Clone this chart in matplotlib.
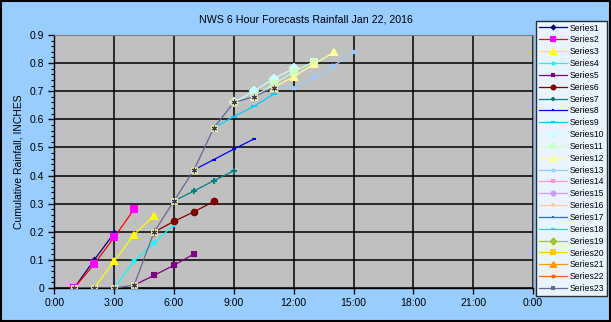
import matplotlib.pyplot as plt
from matplotlib.ticker import FixedLocator, MultipleLocator

plt.rcParams['font.family'] = ['Liberation Sans', 'DejaVu Sans']

# observed cumulative rainfall (hours after midnight)
obs_hours = [1, 2, 3, 4, 5, 6, 7, 8, 9, 10, 11]
obs_rain = [0.0, 0.0, 0.0, 0.01, 0.199, 0.31, 0.42, 0.57, 0.66, 0.68, 0.713]

# forecast runs, one list of hours and one of values per series
fc_hours = [
    [1, 2, 3],
    [1, 2, 3, 4],
    [2, 3, 4, 5],
    [3, 4, 5, 6],
    [4, 5, 6, 7],
    [5, 6, 7, 8],
    [6, 7, 8, 9],
    [7, 8, 9, 10],
    [8, 9, 10, 11],
    [9, 10, 11, 12],
    [10, 11, 12, 13],
    [11, 12, 13, 14],
    [11, 12, 13, 14, 15],
]
fc_rain = [
    [0.0, 0.10, 0.195],
    [0.0, 0.085, 0.18, 0.28],
    [0.0, 0.095, 0.19, 0.257],
    [0.0, 0.096, 0.16, 0.225],
    [0.01, 0.045, 0.081, 0.121],
    [0.199, 0.237, 0.271, 0.308],
    [0.31, 0.345, 0.382, 0.417],
    [0.42, 0.457, 0.494, 0.53],
    [0.57, 0.61, 0.646, 0.69],
    [0.66, 0.70, 0.745, 0.781],
    [0.68, 0.725, 0.769, 0.805],
    [0.713, 0.752, 0.796, 0.838],
    [0.713, 0.713, 0.749, 0.79, 0.838],
]

x_ticks = [0, 3, 6, 9, 12, 15, 18, 21, 24]
x_labels = ["0:00", "3:00", "6:00", "9:00", "12:00", "15:00", "18:00", "21:00", "0:00"]
y_ticks = [0, 0.1, 0.2, 0.3, 0.4, 0.5, 0.6, 0.7, 0.8, 0.9]
y_labels = ["0", "0.1", "0.2", "0.3", "0.4", "0.5", "0.6", "0.7", "0.8", "0.9"]

# old excel palette / marker cycle for 23 series
line_colors = ["#000080", "#FF0000", "#FFFF00", "#00FFFF", "#800080", "#800000",
               "#008080", "#0000FF", "#00CCFF", "#CCFFFF", "#CCFFCC", "#FFFF99",
               "#99CCFF", "#FF99CC", "#CC99FF", "#FFCC99", "#3366FF", "#33CCCC",
               "#99CC00", "#FFCC00", "#FF9900", "#FF6600", "#666699"]
marker_colors = list(line_colors)
marker_colors[1] = "#FF00FF"
markers = ["D", "s", "^", "x", "s", "o", "+", "_", "_",
           "D", "s", "^", "x", "s", "o", "+", "_", "_",
           "D", "s", "^", "x", "s"]
msizes = [2.5, 4.3, 5, 3, 2.5, 4, 4, 3, 5, 4, 4.3, 5, 3, 2.5, 4, 4, 3, 5, 4, 4.3, 5, 3, 2.5]

fig = plt.figure(figsize=(6.11, 3.22), dpi=100, facecolor="#99CCFF")
ax = fig.add_axes([0.0889, 0.1056, 0.7835, 0.7857])
ax.set_facecolor("#C0C0C0")

for i in range(23):
    if i < len(fc_hours):
        xs, ys = fc_hours[i], fc_rain[i]
    elif i == 22:
        xs, ys = obs_hours, obs_rain
    else:
        xs, ys = [], []
    ax.plot(xs, ys, color=line_colors[i], lw=0.9, marker=markers[i],
            ms=msizes[i], mfc=marker_colors[i], mec=marker_colors[i],
            mew=1.5, label="Series%d" % (i + 1), zorder=3)

# observed points drawn over everything
ax.plot(obs_hours, obs_rain, ls="none", marker="s", ms=4.8, mfc="#FFFF99",
        mec="#F0F0B0", mew=0.6, zorder=4)
ax.plot(obs_hours, obs_rain, ls="none", marker=(6, 2, 0), ms=4, mec="#3A3A55",
        mew=0.8, zorder=5)

ax.set_xlim(0, 24)
ax.set_ylim(0, 0.9)
ax.xaxis.set_major_locator(FixedLocator(x_ticks))
ax.set_xticklabels(x_labels)
ax.yaxis.set_major_locator(FixedLocator(y_ticks))
ax.set_yticklabels(y_labels)
ax.yaxis.set_minor_locator(MultipleLocator(0.02))
ax.tick_params(axis="both", which="major", direction="out", length=4,
               width=1, labelsize=7.5, colors="black")
ax.tick_params(axis="y", which="minor", direction="out", length=2, width=0.8)
ax.grid(True, which="major", color="black", lw=1.1)
ax.set_axisbelow(True)
for side in ["top", "right"]:
    ax.spines[side].set_color("#808080")
for side in ["left", "bottom"]:
    ax.spines[side].set_color("black")
    ax.spines[side].set_linewidth(1.0)

ax.set_ylabel("Cumulative Rainfall, INCHES", fontsize=7.5, labelpad=4)
fig.text(0.5, 0.94, "NWS 6 Hour Forecasts Rainfall Jan 22, 2016",
         ha="center", va="center", fontsize=7.7)

leg = fig.legend(loc="upper left", bbox_to_anchor=(0.878, 0.935), fontsize=6.2,
                 frameon=True, fancybox=False, handlelength=3.2,
                 labelspacing=0.33, borderpad=0.3, handletextpad=0.4,
                 borderaxespad=0, markerscale=0.7)
leg.get_frame().set_edgecolor("black")
leg.get_frame().set_linewidth(1.0)
leg.get_frame().set_facecolor("white")

# outer border of the chart
fig.patches.append(plt.Rectangle((0.001, 0.002), 0.997, 0.995, transform=fig.transFigure,
                                 fill=False, edgecolor="black", lw=1.5))

fig.savefig("out.png", dpi=100, facecolor=fig.get_facecolor())
